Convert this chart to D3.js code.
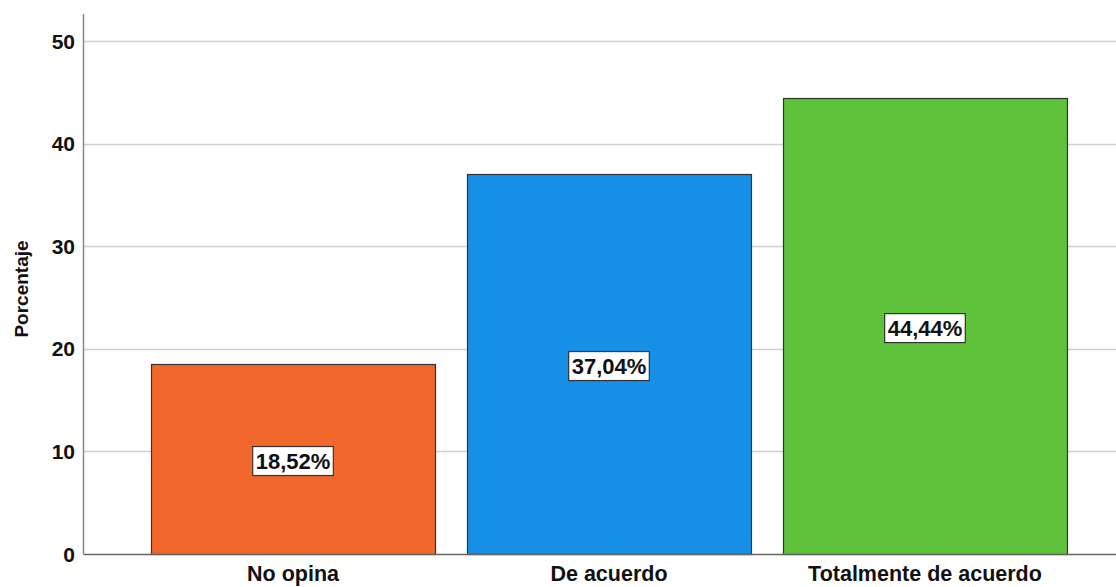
<!DOCTYPE html>
<html>
<head>
<meta charset="utf-8">
<script src="https://cdn.jsdelivr.net/npm/d3@7"></script>
<style>
  body { margin: 0; background: #fff; }
  text { font-family: "Liberation Sans", Arial, sans-serif; fill: #111; }
</style>
</head>
<body>
<svg id="chart"></svg>
<script>
var categories = ['No opina', 'De acuerdo', 'Totalmente de acuerdo'];
var percentages = [18.52, 37.04, 44.44];
var barColors = ['#f2682c', '#1590e6', '#5ec33a'];
var yTicks = [0, 10, 20, 30, 40, 50];

var width = 1116;
var height = 587;
var axisX = 83.5;
var plotRight = 1116;

var svg = d3.select('#chart').attr('width', width).attr('height', height);

var y = d3.scaleLinear().domain([0, 52.65]).range([554, 14]);
var x = d3.scaleBand().domain(categories).range([135, 1083])
  .paddingInner(0.1013).paddingOuter(0.0507);

// gridlines
svg.append('g').selectAll('line').data(yTicks.filter(function(d) { return d > 0; }))
  .enter().append('line')
  .attr('x1', axisX).attr('x2', plotRight)
  .attr('y1', function(d) { return Math.round(y(d)) + 0.5; })
  .attr('y2', function(d) { return Math.round(y(d)) + 0.5; })
  .attr('stroke', '#cfcfcf').attr('stroke-width', 1.5);

// bars
svg.append('g').selectAll('rect').data(percentages).enter().append('rect')
  .attr('x', function(d, i) { return Math.round(x(categories[i])) + 0.5; })
  .attr('y', function(d) { return Math.round(y(d)) + 0.5; })
  .attr('width', x.bandwidth())
  .attr('height', function(d) { return y(0) - Math.round(y(d)); })
  .attr('fill', function(d, i) { return barColors[i]; })
  .attr('stroke', '#333').attr('stroke-width', 1.2);

// y axis line and baseline
svg.append('line').attr('x1', axisX).attr('x2', axisX).attr('y1', 14).attr('y2', 554)
  .attr('stroke', '#888').attr('stroke-width', 1.5);
svg.append('line').attr('x1', axisX).attr('x2', plotRight).attr('y1', 554.5).attr('y2', 554.5)
  .attr('stroke', '#666').attr('stroke-width', 1.5);

// y tick labels
svg.append('g').selectAll('text').data(yTicks).enter().append('text')
  .attr('x', 75).attr('y', function(d) { return y(d); })
  .attr('text-anchor', 'end').attr('dominant-baseline', 'central')
  .style('font-size', '21px').style('font-weight', 'bold')
  .text(function(d) { return d; });

// y title
svg.append('text')
  .attr('transform', 'translate(21,' + 289 + ') rotate(-90)')
  .attr('text-anchor', 'middle').attr('dominant-baseline', 'central')
  .style('font-size', '19px').style('font-weight', 'bold')
  .text('Porcentaje');

// category labels
svg.append('g').selectAll('text').data(categories).enter().append('text')
  .attr('x', function(d) { return x(d) + x.bandwidth() / 2; })
  .attr('y', 581)
  .attr('text-anchor', 'middle')
  .style('font-size', '21.5px').style('font-weight', 'bold')
  .text(function(d) { return d; });

// value labels
var labels = svg.append('g').selectAll('g').data(percentages).enter().append('g')
  .attr('transform', function(d, i) {
    return 'translate(' + (x(categories[i]) + x.bandwidth() / 2) + ',' + (y(d / 2) + 2) + ')';
  });
labels.append('text')
  .attr('text-anchor', 'middle').attr('dominant-baseline', 'central')
  .style('font-size', '22px').style('font-weight', 'bold')
  .text(function(d) { return d.toFixed(2).replace('.', ',') + '%'; });
labels.each(function() {
  var g = d3.select(this);
  var bb = g.select('text').node().getBBox();
  g.insert('rect', 'text')
    .attr('x', bb.x - 3).attr('y', bb.y - 2)
    .attr('width', bb.width + 6).attr('height', bb.height + 4)
    .attr('fill', '#fff').attr('stroke', '#333').attr('stroke-width', 1.2);
});
</script>
</body>
</html>
